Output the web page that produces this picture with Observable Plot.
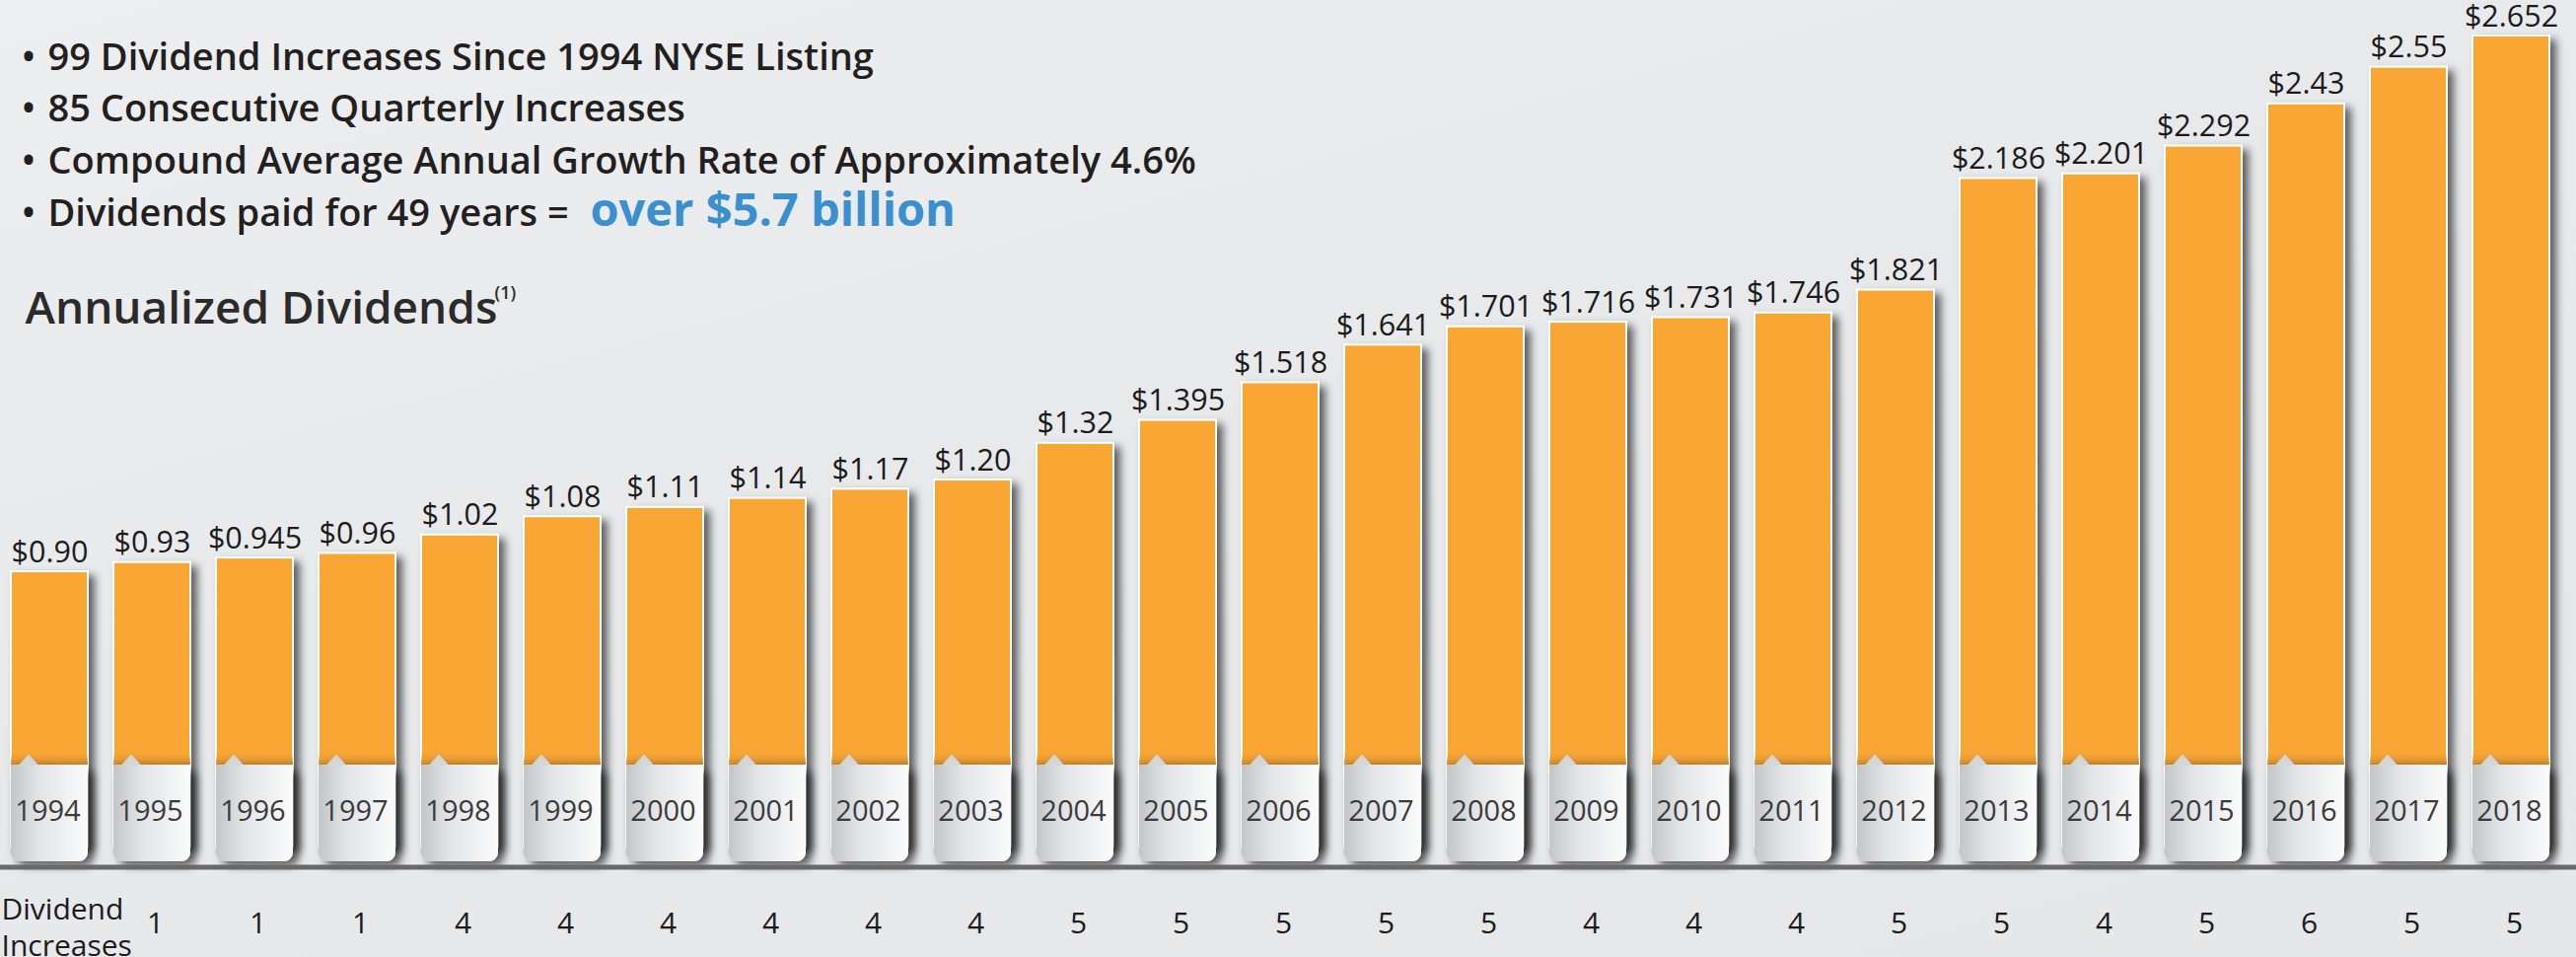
<!DOCTYPE html>
<html>
<head>
<meta charset="utf-8">
<script src="https://cdn.jsdelivr.net/npm/d3@7"></script>
<script src="https://cdn.jsdelivr.net/npm/@observablehq/plot@0.6"></script>
<style>
  html, body { margin: 0; padding: 0; }
  body { width: 2612px; height: 970px; overflow: hidden;
         background: linear-gradient(165deg, #eceef0 0%, #e8e9eb 45%, #e5e7e9 100%);
         font-family: "Open Sans", sans-serif; }
  #chart svg { display: block; }
</style>
</head>
<body>
<div id="chart"></div>
<script>
// ---- data ----
const years = ["1994","1995","1996","1997","1998","1999","2000","2001","2002","2003","2004","2005","2006","2007","2008","2009","2010","2011","2012","2013","2014","2015","2016","2017","2018"];
const dividends = [0.90,0.93,0.945,0.96,1.02,1.08,1.11,1.14,1.17,1.20,1.32,1.395,1.518,1.641,1.701,1.716,1.731,1.746,1.821,2.186,2.201,2.292,2.43,2.55,2.652];
const dividendLabels = ["$0.90","$0.93","$0.945","$0.96","$1.02","$1.08","$1.11","$1.14","$1.17","$1.20","$1.32","$1.395","$1.518","$1.641","$1.701","$1.716","$1.731","$1.746","$1.821","$2.186","$2.201","$2.292","$2.43","$2.55","$2.652"];
const increaseYears = ["1995","1996","1997","1998","1999","2000","2001","2002","2003","2004","2005","2006","2007","2008","2009","2010","2011","2012","2013","2014","2015","2016","2017","2018"];
const increases = [1,1,1,4,4,4,4,4,4,5,5,5,5,5,4,4,4,5,5,4,5,6,5,5];
const bullets = [
  "99 Dividend Increases Since 1994 NYSE Listing",
  "85 Consecutive Quarterly Increases",
  "Compound Average Annual Growth Rate of Approximately 4.6%",
  "Dividends paid for 49 years ="
];
const highlight = "over $5.7 billion";
const chartTitle = "Annualized Dividends";
const titleNote = "(1)";
const rowLabel = "Dividend\nIncreases";

// ---- tables built from arrays ----
const bars = years.map((year, i) => ({year, value: dividends[i], label: dividendLabels[i]}));
const counts = increaseYears.map((year, i) => ({year, count: increases[i]}));

const notch = {
  draw(context) {
    context.moveTo(-10, 0);
    context.lineTo(0, -11);
    context.lineTo(10, 0);
    context.closePath();
  }
};

const font = "Open Sans";
const bulletBaselines = [34, 86.7, 139.3, 192];

const bulletMarks = bullets.flatMap((line, k) => [
  Plot.text([line], {text: d => d, frameAnchor: "top-left", dx: 44, dy: bulletBaselines[k],
    textAnchor: "start", lineAnchor: "bottom", fontSize: 38, fontWeight: 600, fill: "#231f20"}),
  Plot.text([line], {text: () => "•", frameAnchor: "top-left", dx: 17.5, dy: bulletBaselines[k],
    textAnchor: "start", lineAnchor: "bottom", fontSize: 37, fontWeight: 600, fill: "#231f20"})
]);

const chart = Plot.plot({
  width: 2612,
  height: 970,
  marginLeft: 4,
  marginRight: 21,
  marginTop: 36,
  marginBottom: 112,
  x: {type: "band", domain: years, paddingInner: 0.254, paddingOuter: 0, axis: null},
  y: {domain: [0, 2.652], axis: null},
  style: {background: "transparent", fontFamily: font, overflow: "visible"},
  marks: [
    ...bulletMarks,
    Plot.text([highlight], {text: d => d, frameAnchor: "top-left", dx: 594, dy: 192,
      textAnchor: "start", lineAnchor: "bottom", fontSize: 47, fontWeight: 700, fill: "#3a8fd1"}),
    Plot.text([chartTitle], {text: d => d, frameAnchor: "top-left", dx: 21, dy: 291,
      textAnchor: "start", lineAnchor: "bottom", fontSize: 46, fontWeight: 600, fill: "#2b2b2b"}),
    Plot.text([titleNote], {text: d => d, frameAnchor: "top-left", dx: 497, dy: 266,
      textAnchor: "start", lineAnchor: "bottom", fontSize: 18, fontWeight: 600, fill: "#2b2b2b"}),

    // orange bars with shadow
    Plot.barY(bars, {x: "year", y1: 0, y2: "value", fill: "#f9a636", stroke: "#ffffff", strokeWidth: 2,
      ariaDescription: "shadowed"}),
    // darker band above the tab
    Plot.barY(bars, {x: "year", y1: 0, y2: 0, insetTop: -97, insetBottom: 83, fill: "url(#bandGrad)",
      ariaDescription: "band"}),
    // year tabs (rounded)
    Plot.barY(bars, {x: "year", y1: 0, y2: 0, insetTop: -83, insetBottom: -15, rx: 9,
      fill: "url(#tabGrad)", ariaDescription: "tabs"}),
    Plot.barY(bars, {x: "year", y1: 0, y2: 0, insetTop: -83, insetBottom: 40,
      fill: "url(#tabGrad)", ariaDescription: "tabtop"}),
    Plot.dot(bars, {x: "year", frameAnchor: "bottom", dx: -21.5, dy: -83, symbol: notch, r: 10,
      fill: "#d3d6d9", stroke: "none"}),
    // year labels
    Plot.text(bars, {x: "year", text: "year", frameAnchor: "bottom", lineAnchor: "middle", dx: -2, dy: -36,
      fontSize: 29, fill: "#3a3a3a"}),
    // value labels
    Plot.text(bars, {x: "year", y: "value", text: "label", lineAnchor: "bottom", dy: -10,
      fontSize: 30.5, fill: "#1b1b1b"}),
    // baseline rule
    Plot.ruleY([0], {dy: 20.5, stroke: "#6b6869", strokeWidth: 5, insetLeft: -4, insetRight: -21}),
    // dividend increases row
    Plot.text(counts, {x: "year", text: "count", frameAnchor: "bottom", lineAnchor: "middle", dx: 3, dy: 78,
      fontSize: 30, fill: "#1b1b1b"}),
    Plot.text([rowLabel], {text: d => d, frameAnchor: "bottom-left", lineAnchor: "middle", dx: -3, dy: 80,
      textAnchor: "start", lineHeight: 1.23, fontSize: 30, fill: "#1b1b1b"})
  ]
});

const svg = d3.select(chart);
const defs = svg.insert("defs", ":first-child");
const tg = defs.append("linearGradient").attr("id", "tabGrad").attr("x1", 0).attr("y1", 0).attr("x2", 1).attr("y2", 0);
tg.append("stop").attr("offset", "0%").attr("stop-color", "#c2c6c9");
tg.append("stop").attr("offset", "35%").attr("stop-color", "#e1e3e5");
tg.append("stop").attr("offset", "100%").attr("stop-color", "#fbfbfb");
const bg = defs.append("linearGradient").attr("id", "bandGrad").attr("x1", 0).attr("y1", 0).attr("x2", 0).attr("y2", 1);
bg.append("stop").attr("offset", "0%").attr("stop-color", "#f9a636").attr("stop-opacity", 0);
bg.append("stop").attr("offset", "100%").attr("stop-color", "#c4852c");
const f = defs.append("filter").attr("id", "shadow").attr("x", "-5%").attr("y", "-5%").attr("width", "110%").attr("height", "120%");
f.append("feDropShadow").attr("dx", 6).attr("dy", 5).attr("stdDeviation", 4)
  .attr("flood-color", "#000").attr("flood-opacity", 0.6);

svg.selectAll('g[aria-description="shadowed"], g[aria-description="tabs"]').attr("filter", "url(#shadow)");
svg.selectAll('g[aria-description="band"]').attr("fill", "url(#bandGrad)");
svg.selectAll('g[aria-description="tabs"], g[aria-description="tabtop"]').attr("fill", "url(#tabGrad)");

document.getElementById("chart").appendChild(chart);
</script>
</body>
</html>
